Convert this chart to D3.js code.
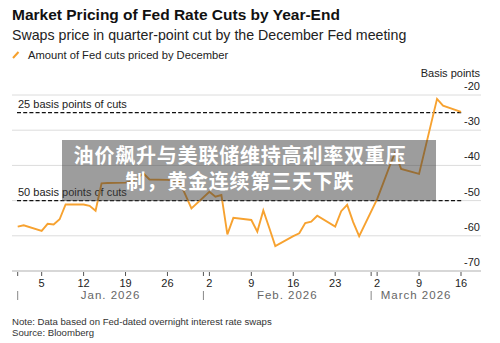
<!DOCTYPE html>
<html lang="en">
<head>
<meta charset="UTF-8">
<title>fed cuts</title>
<script src="https://cdn.jsdelivr.net/npm/d3@7"></script>
<style>
    body{ margin:0; background:#fff; }
    svg{ display:block; font-family:"Liberation Sans", Arial, sans-serif; }
</style>
</head>
<body>
<svg id="chart" width="500" height="343"></svg>
<script>
    // data
    let dates = ["2026-01-01","2026-01-02","2026-01-05","2026-01-06","2026-01-07","2026-01-08","2026-01-09",
        "2026-01-12","2026-01-13","2026-01-14","2026-01-15","2026-01-16","2026-01-19","2026-01-20","2026-01-21",
        "2026-01-22","2026-01-23","2026-01-26","2026-01-27","2026-01-28","2026-01-29","2026-01-30",
        "2026-02-02","2026-02-03","2026-02-04","2026-02-05","2026-02-06","2026-02-09","2026-02-10","2026-02-11",
        "2026-02-12","2026-02-13","2026-02-16","2026-02-17","2026-02-18","2026-02-19","2026-02-20",
        "2026-02-23","2026-02-24","2026-02-25","2026-02-26","2026-02-27",
        "2026-03-02","2026-03-03","2026-03-04","2026-03-05","2026-03-06","2026-03-09","2026-03-10","2026-03-11",
        "2026-03-12","2026-03-13","2026-03-16"]
    let cuts = [-57.4,-57.0,-58.6,-56.6,-56.8,-55.3,-51.1,
        -51.1,-51.5,-52.9,-45.1,-45.0,-44.9,-44.5,-43.5,
        -42.3,-44.0,-44.1,-44.3,-44.6,-48.4,-52.2,
        -47.5,-48.9,-48.4,-59.6,-54.9,-55.5,-58.8,-52.8,
        -57.8,-62.9,-60.1,-59.3,-56.4,-56.0,-54.3,
        -57.4,-53.0,-51.2,-56.1,-60.1,
        -49.6,-45.1,-40.6,-36.3,-41.0,-42.4,-35.3,-28.2,
        -21.1,-23.0,-24.8]
    let yTicks = [-20,-30,-40,-50,-60,-70]
    let refLines = [-25,-50]
    let refLabels = ["25 basis points of cuts","50 basis points of cuts"]
    let dayTicks = ["2026-01-05","2026-01-12","2026-01-19","2026-01-26","2026-02-02","2026-02-09",
        "2026-02-16","2026-02-23","2026-03-02","2026-03-09","2026-03-16"]
    let monthStarts = ["2026-01-01","2026-02-01","2026-03-01"]
    let monthLabels = ["Jan. 2026","Feb. 2026","March 2026"]

    let parse = d3.utcParse("%Y-%m-%d")
    let data = dates.map((d,i) => ({date: parse(d), v: cuts[i]}))

    let svg = d3.select("#chart")

    let x = d3.scaleUtc()
        .domain([parse("2026-01-01"), parse("2026-03-16")])
        .range([17.7, 461])
    let y = d3.scaleLinear()
        .domain([-70,-20])
        .range([271, 95])

    // titles
    svg.append("text").attr("x",12).attr("y",20)
        .attr("font-size",15.5).attr("font-weight","bold").attr("fill","#111")
        .text("Market Pricing of Fed Rate Cuts by Year-End")
    svg.append("text").attr("x",12).attr("y",40)
        .attr("font-size",14.2).attr("fill","#222")
        .text("Swaps price in quarter-point cut by the December Fed meeting")
    svg.append("line").attr("x1",13).attr("y1",58).attr("x2",18.5).attr("y2",52)
        .attr("stroke","#f6a02c").attr("stroke-width",2)
    svg.append("text").attr("x",28).attr("y",58.5)
        .attr("font-size",11.2).attr("fill","#222")
        .text("Amount of Fed cuts priced by December")

    // grid
    svg.append("g").selectAll("line").data(yTicks).join("line")
        .attr("x1",12).attr("x2",481)
        .attr("y1",d => y(d)).attr("y2",d => y(d))
        .attr("stroke","#dcdcdc").attr("stroke-width",1)
    svg.append("g").selectAll("text").data(yTicks).join("text")
        .attr("x",480).attr("y",d => y(d) - 5)
        .attr("text-anchor","end").attr("font-size",11).attr("fill","#222")
        .text(d => d)
    svg.append("text").attr("x",480).attr("y",77)
        .attr("text-anchor","end").attr("font-size",11).attr("fill","#222")
        .text("Basis points")

    // reference lines
    svg.append("g").selectAll("line").data(refLines).join("line")
        .attr("x1",17).attr("x2",462)
        .attr("y1",d => y(d)).attr("y2",d => y(d))
        .attr("stroke","#111").attr("stroke-width",1.4)
        .attr("stroke-dasharray","4,2.2")
    svg.append("g").selectAll("text").data(refLines).join("text")
        .attr("x",18).attr("y",d => y(d) - 5)
        .attr("font-size",11).attr("fill","#222")
        .text((d,i) => refLabels[i])

    // x axis
    let axisY = y(-70)
    svg.append("line").attr("x1",12).attr("x2",481)
        .attr("y1",axisY).attr("y2",axisY)
        .attr("stroke","#cfcfcf").attr("stroke-width",1.5)
    let tickDates = dayTicks.map(parse).concat(monthStarts.map(parse))
    svg.append("g").selectAll("line").data(tickDates).join("line")
        .attr("x1",d => x(d)).attr("x2",d => x(d))
        .attr("y1",axisY + 1).attr("y2",axisY + 5)
        .attr("stroke","#555").attr("stroke-width",1)
    svg.append("g").selectAll("text").data(dayTicks.map(parse)).join("text")
        .attr("x",d => x(d)).attr("y",axisY + 15.5)
        .attr("text-anchor","middle").attr("font-size",11).attr("fill","#222")
        .text(d => d.getUTCDate())
    // month separators and labels
    let mEdges = monthStarts.map(parse)
    svg.append("g").selectAll("line").data(mEdges).join("line")
        .attr("x1",d => x(d)).attr("x2",d => x(d))
        .attr("y1",axisY + 20).attr("y2",axisY + 29)
        .attr("stroke","#888").attr("stroke-width",1)
    svg.append("g").selectAll("text").data(mEdges).join("text")
        .attr("x",(d,i) => (x(d) + (i < 2 ? x(mEdges[i+1]) : x.range()[1])) / 2)
        .attr("y",axisY + 27.5)
        .attr("text-anchor","middle").attr("font-size",11.5).attr("fill","#666")
        .attr("letter-spacing","1")
        .text((d,i) => monthLabels[i])

    // line
    let line = d3.line().x(d => x(d.date)).y(d => y(d.v))
    svg.append("path").datum(data)
        .attr("d",line)
        .attr("fill","none")
        .attr("stroke","#f7a230")
        .attr("stroke-width",1.9)
        .attr("stroke-linejoin","miter")

    // notes
    svg.append("text").attr("x",12).attr("y",325)
        .attr("font-size",9.6).attr("fill","#333")
        .text("Note: Data based on Fed-dated overnight interest rate swaps")
    svg.append("text").attr("x",12).attr("y",336)
        .attr("font-size",9.6).attr("fill","#333")
        .text("Source: Bloomberg")

    // overlay banner
    svg.append("rect").attr("x",62).attr("y",140).attr("width",374).attr("height",61)
        .attr("fill","rgba(60,60,60,0.5)")
    let banner = ["油价飙升与美联储维持高利率双重压","制，黄金连续第三天下跌"]
    svg.append("g").selectAll("text").data(banner).join("text")
        .attr("x",240).attr("y",(d,i) => 163 + i * 26)
        .attr("text-anchor","middle")
        .attr("font-family","'Noto Sans CJK SC', sans-serif")
        .attr("font-size",20).attr("font-weight","bold").attr("fill","#fff")
        .attr("letter-spacing","0.8")
        .text(d => d)
</script>
</body>
</html>
